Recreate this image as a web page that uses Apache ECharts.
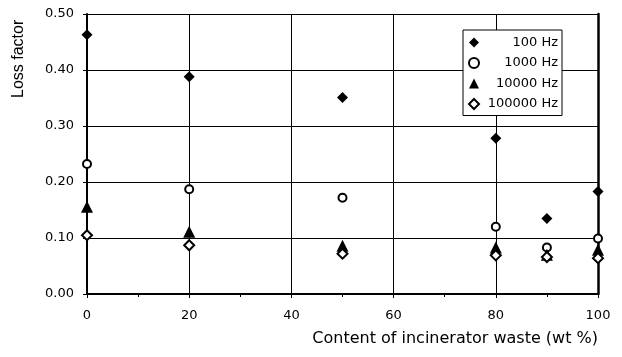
<!DOCTYPE html>
<html>
<head>
<meta charset="utf-8">
<script src="https://cdn.jsdelivr.net/npm/echarts@6/dist/echarts.min.js"></script>
<style>
  html, body { margin: 0; padding: 0; background: #fff; }
  #chart { width: 622px; height: 357px; }
</style>
</head>
<body>
<div id="chart"></div>
<script>
// Incinerator waste content (wt %) on the x axis
const wasteContent = [0, 20, 50, 80, 90, 100];

// Loss factor measured at each frequency
const loss100Hz    = [0.463, 0.388, 0.351, 0.278, 0.135, 0.183];
const loss1000Hz   = [0.232, 0.187, 0.172, 0.120, 0.083, 0.099];
const loss10000Hz  = [0.156, 0.111, 0.086, 0.083, 0.070, 0.079];
const loss100000Hz = [0.105, 0.087, 0.072, 0.069, 0.066, 0.064];

const seriesNames = ['100 Hz', '1000 Hz', '10000 Hz', '100000 Hz'];

const pairs = (ys) => wasteContent.map((x, i) => [x, ys[i]]);

const font = '"DejaVu Sans", "Liberation Sans", Arial, sans-serif';
const nameFont = '"Liberation Sans", Arial, sans-serif';

const chart = echarts.init(document.getElementById('chart'), null, { renderer: 'canvas' });

chart.setOption({
  animation: false,
  backgroundColor: '#fff',
  grid: { left: 87, right: 24, top: 14, bottom: 63, show: false },
  legend: {
    data: seriesNames,
    orient: 'vertical',
    left: 463,
    top: 30,
    padding: [6, 4, 5, 5],
    itemWidth: 10,
    itemHeight: 10,
    itemGap: 7.5,
    borderColor: '#000',
    borderWidth: 1,
    backgroundColor: '#fff',
    formatter: '{t|{name}}',
    textStyle: {
      fontFamily: font, fontSize: 13, color: '#000',
      rich: { t: { fontFamily: font, fontSize: 13, color: '#000', width: 74, align: 'right' } }
    }
  },
  xAxis: {
    type: 'value',
    min: 0,
    max: 100,
    interval: 20,
    axisLine: { show: true, onZero: false, lineStyle: { color: '#000', width: 2 } },
    axisTick: { show: true, length: 4, lineStyle: { color: '#000' } },
    minorTick: { show: true, splitNumber: 2, length: 3, lineStyle: { color: '#000' } },
    axisLabel: { fontFamily: font, fontSize: 13, color: '#000', margin: 15 },
    splitLine: { show: true, lineStyle: { color: '#000', width: 1 } }
  },
  yAxis: [
    {
      type: 'value',
      min: 0,
      max: 0.5,
      interval: 0.1,
      axisLine: { show: true, onZero: false, lineStyle: { color: '#000', width: 2 } },
      axisTick: { show: true, length: 4, lineStyle: { color: '#000' } },
      axisLabel: {
        fontFamily: font, fontSize: 13, color: '#000', margin: 13,
        formatter: (v) => v.toFixed(2)
      },
      splitLine: { show: true, lineStyle: { color: '#000', width: 1 } }
    },
    {
      // right-hand frame edge
      type: 'value',
      position: 'right',
      min: 0,
      max: 0.5,
      interval: 0.1,
      axisLine: { show: true, onZero: false, lineStyle: { color: '#000', width: 2.5 } },
      axisTick: { show: false },
      axisLabel: { show: false },
      splitLine: { show: false }
    }
  ],
  graphic: [
    {
      type: 'text',
      x: 598,
      y: 331,
      style: {
        text: 'Content of incinerator waste (wt %)',
        font: '16px ' + font,
        fill: '#000',
        textAlign: 'right'
      }
    },
    {
      type: 'text',
      x: 11,
      y: 98,
      rotation: Math.PI / 2,
      style: {
        text: 'Loss factor',
        font: '16px ' + nameFont,
        fill: '#000'
      }
    }
  ],
  series: [
    {
      name: seriesNames[0],
      type: 'scatter',
      data: pairs(loss100Hz),
      symbol: 'diamond',
      symbolSize: 11,
      itemStyle: { color: '#000', opacity: 1 }
    },
    {
      name: seriesNames[1],
      type: 'scatter',
      data: pairs(loss1000Hz),
      symbol: 'circle',
      symbolSize: 8,
      itemStyle: { color: '#fff', borderColor: '#000', borderWidth: 2, opacity: 1 }
    },
    {
      name: seriesNames[2],
      type: 'scatter',
      data: pairs(loss10000Hz),
      symbol: 'triangle',
      symbolSize: 12,
      itemStyle: { color: '#000', opacity: 1 }
    },
    {
      name: seriesNames[3],
      type: 'scatter',
      data: pairs(loss100000Hz),
      symbol: 'diamond',
      symbolSize: 10,
      itemStyle: { color: '#fff', borderColor: '#000', borderWidth: 2, opacity: 1 }
    }
  ]
});
</script>
</body>
</html>
